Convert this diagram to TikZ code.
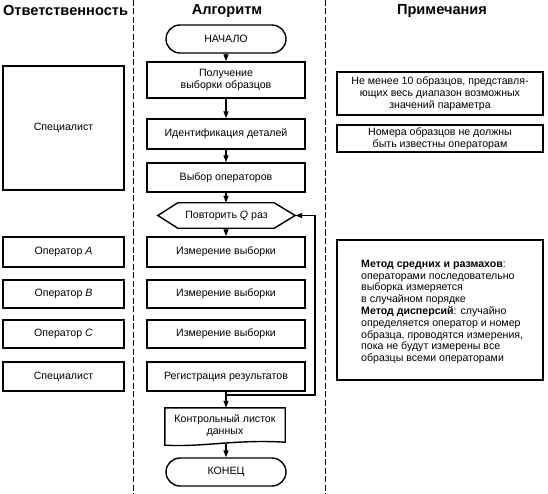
\documentclass[tikz,border=0pt]{standalone}
\usepackage{fontspec}
\setmainfont{Liberation Sans}
\usetikzlibrary{arrows.meta,calc}
\newcommand{\myfs}{\fontsize{10.6}{11.8}\selectfont}
\newcommand{\myhd}{\fontsize{14.6}{16}\selectfont\bfseries}
\begin{document}
\begin{tikzpicture}[x=1pt,y=-1pt,
  box/.style={draw, line width=1.4pt, inner sep=0pt, align=center, font=\myfs},
  term/.style={box, rounded corners=14pt, minimum width=120pt, minimum height=28pt},
  flow/.style={box, minimum width=158pt},
  lbox/.style={box, minimum width=121pt},
  rbox/.style={box, minimum width=206pt},
  ghost/.style={inner sep=0pt, align=center, font=\myfs},
  head/.style={inner sep=0pt, font=\myhd},
  conn/.style={line width=1.4pt},
  arr/.style={conn, -{Triangle[length=7pt,width=5pt]}},
  sep/.style={line width=0.8pt, dash pattern=on 6pt off 2.5pt}
]
\useasboundingbox (0,0) rectangle (548,494);
% separators
\coordinate (s1t) at (133,0); \coordinate (s1b) at (133,494);
\coordinate (s2t) at (325,0); \coordinate (s2b) at (325,494);
\draw[sep] (s1t) -- (s1b);
\draw[sep] (s2t) -- (s2b);
% headers
\node[head] (h1) at (65.5,10.5) {Ответственность};
\node[head] (h2) at (227,10.5) {Алгоритм};
\node[head] (h3) at (442,10.5) {Примечания};
% flow
\node[term] (start) at (226,39) {НАЧАЛО};
\node[flow, minimum height=36pt] (get) at (226,80) {Получение\\выборки образцов};
\node[flow, minimum height=30pt] (ident) at (226,134) {Идентификация деталей};
\node[flow, minimum height=29pt] (sel) at (226,177.5) {Выбор операторов};
\node[ghost, minimum width=137pt, minimum height=25pt] (rep) at (226.5,215.5) {Повторить \textit{Q} раз};
\draw[conn] (rep.west) -- ($(rep.north west)+(20,0)$) -- ($(rep.north east)+(-21,0)$) -- (rep.east)
  -- ($(rep.south east)+(-21,0)$) -- ($(rep.south west)+(20,0)$) -- cycle;
\node[flow, minimum height=30pt] (m1) at (226,252) {Измерение выборки};
\node[flow, minimum height=28pt] (m2) at (226,294) {Измерение выборки};
\node[flow, minimum height=28pt] (m3) at (226,334) {Измерение выборки};
\node[flow, minimum height=29pt] (reg) at (226,376.5) {Регистрация результатов};
\node[ghost, minimum width=120pt, minimum height=36pt] (doc) at (225,426) {Контрольный листок\\данных};
\draw[conn] (doc.north west) -- ($(doc.south west)+(0,1)$)
  .. controls ($(doc.south west)+(40,3)$) and ($(doc.south east)+(-50,-5)$) .. ($(doc.south east)+(0,-2)$)
  -- (doc.north east) -- cycle;
\node[term] (end) at (226,472) {КОНЕЦ};
% arrows
\draw[arr] (start) -- (get);
\draw[arr] (get) -- (ident);
\draw[arr] (ident) -- (sel);
\draw[arr] (sel.south) -- (sel.south |- rep.north);
\draw[arr] (sel.south |- rep.south) -- (m1.north);
\draw[arr] (reg.south) -- (reg.south |- doc.north);
\draw[arr] (reg.south |- doc.south) -- (end.north);
\coordinate (ls) at (226,395);
\coordinate (lc) at (315,395);
\draw[arr] (ls) -- (lc) |- (rep.east);
% left column
\node[lbox, minimum height=124pt] (sp1) at (63.5,128) {Специалист};
\node[lbox, minimum height=30pt] (opa) at (63.5,252) {Оператор \textit{A}};
\node[lbox, minimum height=28pt] (opb) at (63.5,294) {Оператор \textit{B}};
\node[lbox, minimum height=28pt] (opc) at (63.5,334) {Оператор \textit{C}};
\node[lbox, minimum height=29pt] (sp2) at (63.5,376.5) {Специалист};
% right column
\node[rbox, minimum height=43pt] (r1) at (440,93.5) {Не менее 10 образцов, представля-\\ющих весь диапазон возможных\\значений параметра};
\node[rbox, minimum height=27pt] (r2) at (440,138.5) {Номера образцов не должны\\быть известны операторам};
\node[rbox, minimum height=140pt] (r3) at (440,310) {};
\node[ghost, align=left, anchor=west] (r3t) at (361,312) {\textbf{Метод средних и размахов}:\\
операторами последовательно\\
выборка измеряется\\
в случайном порядке\\
\textbf{Метод дисперсий}: случайно\\
определяется оператор и номер\\
образца, проводятся измерения,\\
пока не будут измерены все\\
образцы всеми операторами};
\end{tikzpicture}
\end{document}
